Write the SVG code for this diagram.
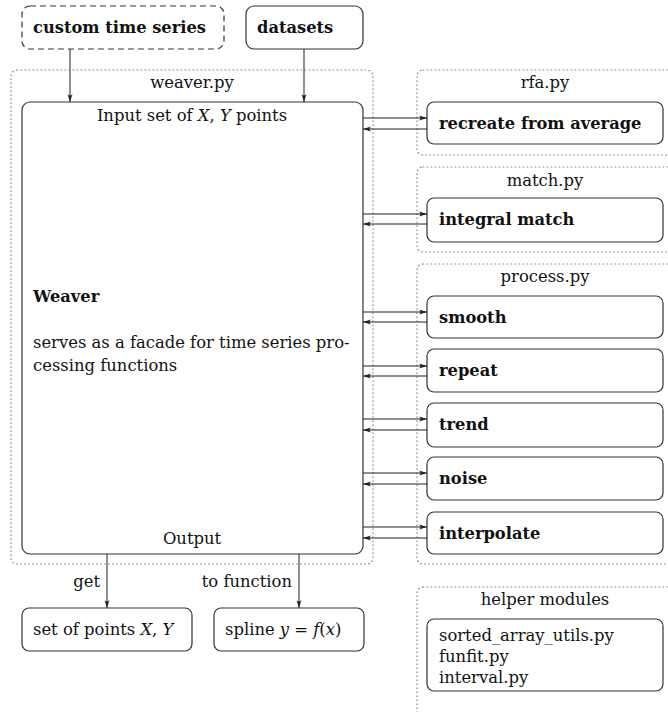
<svg xmlns="http://www.w3.org/2000/svg" width="668" height="712" viewBox="0 0 668 712">
<defs>
<marker id="ah" viewBox="0 0 8 6" refX="8" refY="3" markerWidth="8" markerHeight="6" markerUnits="userSpaceOnUse" orient="auto">
<path d="M0,0.5 Q3,3 0,5.5 L8,3 Z" fill="#222"/>
</marker>
<style>
.grp{fill:none;stroke:#888;stroke-width:1.2;stroke-dasharray:0.8 3.2;stroke-linecap:round}
.box{fill:#fff;stroke:#333;stroke-width:1.2}
.dash{fill:#fff;stroke:#333;stroke-width:1.2;stroke-dasharray:6 4}
.t{font-family:'DejaVu Serif','Liberation Serif',serif;font-size:16.4px;fill:#111}
.b{font-family:'DejaVu Serif','Liberation Serif',serif;font-size:16.3px;font-weight:bold;fill:#111}
.c{text-anchor:middle}
.ln{stroke:#222;stroke-width:1;fill:none;marker-end:url(#ah)}
</style>
</defs>
<rect width="668" height="712" fill="#fff"/>

<g id="weaver-py">
<rect class="grp" x="11" y="70" width="362" height="494" rx="6"/>
<text class="t c" x="192" y="88">weaver.py</text>
</g>
<g id="rfa-py">
<rect class="grp" x="417" y="70" width="270" height="85" rx="6"/>
<text class="t c" x="545" y="88">rfa.py</text>
</g>
<g id="match-py">
<rect class="grp" x="417" y="167" width="270" height="85" rx="6"/>
<text class="t c" x="545" y="186">match.py</text>
</g>
<g id="process-py">
<rect class="grp" x="417" y="264" width="270" height="300" rx="6"/>
<text class="t c" x="545" y="282">process.py</text>
</g>
<g id="helper-modules">
<rect class="grp" x="417" y="587" width="270" height="140" rx="6"/>
<text class="t c" x="545" y="605">helper modules</text>
<rect class="box" x="427" y="619" width="236" height="72" rx="7"/>
<text class="t" x="439" y="641">sorted_array_utils.py</text>
<text class="t" x="439" y="662">funfit.py</text>
<text class="t" x="439" y="683">interval.py</text>
</g>

<g id="custom-time-series">
<rect class="dash" x="22" y="6" width="202" height="43" rx="8"/>
<text class="b" x="33" y="33">custom time series</text>
</g>
<g id="datasets">
<rect class="box" x="246" y="6" width="117" height="43" rx="8"/>
<text class="b" x="257" y="33">datasets</text>
</g>

<g id="weaver">
<rect class="box" x="22" y="102" width="341" height="452" rx="8"/>
<text class="t c" x="192" y="121">Input set of <tspan font-style="italic">X</tspan>, <tspan font-style="italic">Y</tspan> points</text>
<text class="b" x="33" y="302">Weaver</text>
<text class="t" x="33" y="348">serves as a facade for time series pro-</text>
<text class="t" x="33" y="371">cessing functions</text>
<text class="t c" x="192" y="544">Output</text>
</g>

<g id="recreate-from-average">
<rect class="box" x="427" y="102" width="236" height="42" rx="7"/>
<text class="b" x="439" y="129">recreate from average</text>
</g>
<g id="integral-match">
<rect class="box" x="427" y="198" width="236" height="44" rx="7"/>
<text class="b" x="439" y="225">integral match</text>
</g>
<g id="smooth">
<rect class="box" x="427" y="296" width="236" height="42" rx="7"/>
<text class="b" x="439" y="323">smooth</text>
</g>
<g id="repeat">
<rect class="box" x="427" y="349" width="236" height="43" rx="7"/>
<text class="b" x="439" y="376">repeat</text>
</g>
<g id="trend">
<rect class="box" x="427" y="403" width="236" height="44" rx="7"/>
<text class="b" x="439" y="430">trend</text>
</g>
<g id="noise">
<rect class="box" x="427" y="457" width="236" height="43" rx="7"/>
<text class="b" x="439" y="484">noise</text>
</g>
<g id="interpolate">
<rect class="box" x="427" y="512" width="236" height="42" rx="7"/>
<text class="b" x="439" y="539">interpolate</text>
</g>

<g id="set-of-points">
<rect class="box" x="22" y="608" width="170" height="43" rx="7"/>
<text class="t" x="33" y="635">set of points <tspan font-style="italic">X</tspan>, <tspan font-style="italic">Y</tspan></text>
</g>
<g id="spline">
<rect class="box" x="214" y="608" width="150" height="43" rx="7"/>
<text class="t" x="225" y="635">spline <tspan font-style="italic">y</tspan> = <tspan font-style="italic">f</tspan>(<tspan font-style="italic">x</tspan>)</text>
</g>

<g id="connectors">
<path class="ln" d="M70,49 V102"/>
<path class="ln" d="M304,49 V102"/>
<path class="ln" d="M363,118 H427"/>
<path class="ln" d="M427,129 H363"/>
<path class="ln" d="M363,214 H427"/>
<path class="ln" d="M427,224 H363"/>
<path class="ln" d="M363,312 H427"/>
<path class="ln" d="M427,322 H363"/>
<path class="ln" d="M363,366 H427"/>
<path class="ln" d="M427,376 H363"/>
<path class="ln" d="M363,419 H427"/>
<path class="ln" d="M427,430 H363"/>
<path class="ln" d="M363,473 H427"/>
<path class="ln" d="M427,484 H363"/>
<path class="ln" d="M363,527 H427"/>
<path class="ln" d="M427,538 H363"/>
<path class="ln" d="M107,554 V608"/>
<path class="ln" d="M299,554 V608"/>
<text class="t" x="100" y="587" text-anchor="end">get</text>
<text class="t" x="292" y="587" text-anchor="end">to function</text>
</g>
</svg>
